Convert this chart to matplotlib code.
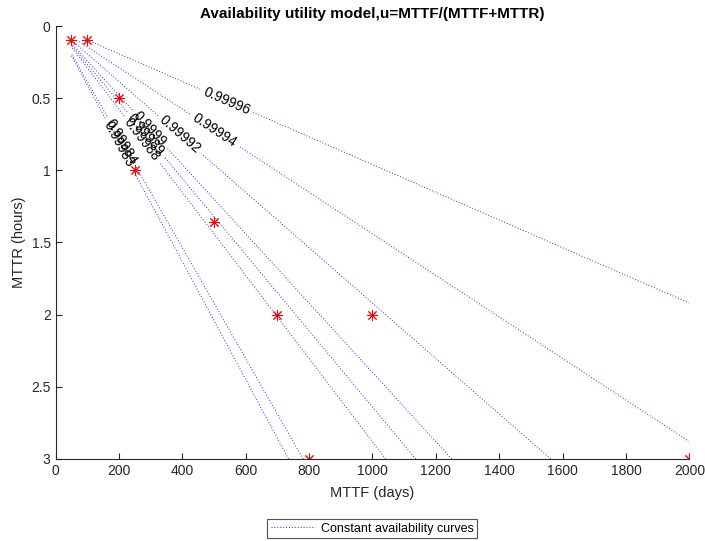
import numpy as np
import matplotlib.pyplot as plt
from matplotlib.lines import Line2D

plt.rcParams['font.family'] = ['Liberation Sans', 'DejaVu Sans']

# Design points: MTTF in days, MTTR in hours
mttf_days = [50, 100, 200, 250, 500, 700, 1000, 800, 2000]
mttr_hours = [0.1, 0.1, 0.5, 1, 1.36, 2, 2, 3, 3]

# Availability levels of the iso-curves
levels = [0.99983, 0.99984, 0.99988, 0.99989, 0.9999, 0.99992, 0.99994, 0.99996]

# MTTF where each curve gets its inline label
label_mttf = [200, 208, 272, 284, 296, 392, 500, 540]


def mttr_on_curve(mttf, u):
    # u = MTTF/(MTTF+MTTR) with MTTF converted to hours
    return mttf * 24.0 * (1.0 - u) / u


fig = plt.figure(figsize=(7.05, 5.41), dpi=100)
ax = fig.add_axes([55.5 / 705, 1 - 459 / 541, 634 / 705, 433 / 541])
ax.set_xlim(0, 2000)
ax.set_ylim(3, 0)

X, Y = np.meshgrid(np.linspace(50, 2000, 600), np.linspace(0.1, 3, 400))
U = X * 24.0 / (X * 24.0 + Y)

dots = (0, (1, 2))
cs = ax.contour(X, Y, U, levels=levels, colors='#2b2bff',
                linestyles=':', linewidths=0.7)
cs.set_linestyle(dots)
spots = [(x, mttr_on_curve(x, u)) for x, u in zip(label_mttf, levels)]
ax.clabel(cs, fmt='%g', manual=spots, inline=True, inline_spacing=4,
          fontsize=10, colors='k')

ax.plot(mttf_days, mttr_hours, linestyle='none', marker=(8, 2, 0),
        markersize=8, color='red', markeredgewidth=0.7)

ax.set_xticks(np.arange(0, 2001, 200))
ax.set_yticks([0, 0.5, 1, 1.5, 2, 2.5, 3])
ax.set_yticklabels(['0', '0.5', '1', '1.5', '2', '2.5', '3'])
for side in ['top', 'right']:
    ax.spines[side].set_visible(False)
for side in ['left', 'bottom']:
    ax.spines[side].set_color('#262626')
    ax.spines[side].set_linewidth(0.8)
ax.tick_params(direction='in', length=4, width=0.8, colors='#262626',
               labelsize=10, labelcolor='#262626')

ax.set_title('Availability utility model,u=MTTF/(MTTF+MTTR)',
             fontweight='bold', fontsize=11, pad=6)
ax.set_xlabel('MTTF (days)', fontsize=10.5, color='#262626', labelpad=6)
ax.set_ylabel('MTTR (hours)', fontsize=10.5, color='#262626')

proxy = Line2D([], [], color='#2b2bff', linestyle=dots, linewidth=0.7)
leg = fig.legend([proxy], ['Constant availability curves'], loc='center',
                 bbox_to_anchor=(0.528, 0.023), fontsize=9, frameon=True,
                 fancybox=False, edgecolor='#262626', handlelength=3.5,
                 borderpad=0.3, handletextpad=0.5)
leg.get_frame().set_linewidth(0.8)

fig.savefig('out.png', dpi=100)
